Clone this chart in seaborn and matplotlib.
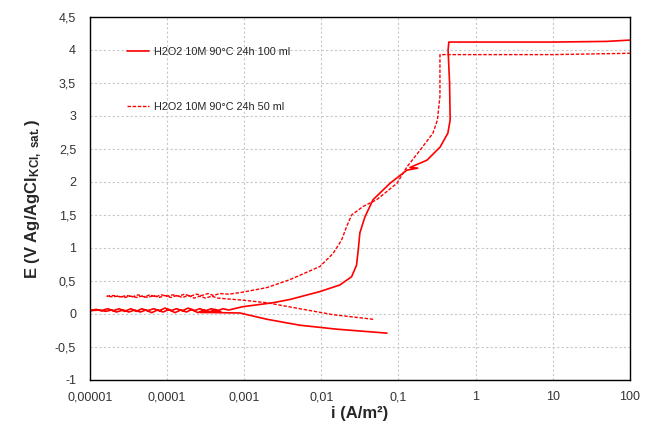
import numpy as np
import pandas as pd
import matplotlib
matplotlib.use("Agg")
import matplotlib.pyplot as plt
import seaborn as sns

# ---- data ----
i_100 = [0.071, 0.0158, 0.00525, 0.00197, 0.00088, 0.00027,
         5.0e-4, 4.2e-4, 3.55e-4, 3.0e-4, 2.5e-4, 2.1e-4, 1.78e-4, 1.5e-4,
         1.26e-4, 1.06e-4, 8.9e-5, 7.5e-5, 6.3e-5, 5.3e-5, 4.5e-5, 3.8e-5,
         3.2e-5, 2.7e-5, 2.2e-5, 1.9e-5, 1.6e-5, 1.3e-5, 1.0e-5,
         1.2e-5, 1.4e-5, 1.7e-5, 2.0e-5, 2.4e-5, 2.8e-5, 3.4e-5, 4.0e-5,
         4.7e-5, 5.6e-5, 6.7e-5, 7.9e-5, 9.4e-5, 1.12e-4, 1.33e-4, 1.58e-4,
         1.88e-4, 2.24e-4, 2.66e-4, 3.16e-4, 3.76e-4, 4.5e-4, 5.3e-4, 6.3e-4,
         0.00095, 0.00234, 0.00392, 0.0096, 0.0174, 0.0247, 0.0286, 0.0301,
         0.0316, 0.0367, 0.0467, 0.0776, 0.129, 0.178, 0.141, 0.234, 0.347,
         0.437, 0.468, 0.46, 0.44, 0.45, 1.0, 10.0, 50.0, 100.0]
E_100 = [-0.29, -0.23, -0.17, -0.08, 0.015, 0.025,
         0.03, 0.07, 0.03, 0.06, 0.02, 0.07, 0.03, 0.06,
         0.02, 0.07, 0.03, 0.06, 0.02, 0.06, 0.03, 0.06,
         0.03, 0.06, 0.03, 0.06, 0.04, 0.06, 0.05,
         0.07, 0.05, 0.08, 0.05, 0.08, 0.04, 0.08, 0.04,
         0.08, 0.05, 0.08, 0.05, 0.09, 0.05, 0.08, 0.05,
         0.09, 0.05, 0.08, 0.05, 0.08, 0.05, 0.08, 0.06,
         0.11, 0.17, 0.22, 0.34, 0.44, 0.565, 0.74, 0.97,
         1.23, 1.47, 1.73, 1.98, 2.18, 2.21, 2.22, 2.33, 2.53,
         2.74, 2.94, 3.5, 4.0, 4.12, 4.12, 4.12, 4.13, 4.15]

i_50 = [0.047, 0.0141, 0.00525, 0.00197, 0.00095, 0.00046,
        3.76e-4, 3.16e-4, 2.66e-4, 2.24e-4, 1.88e-4, 1.58e-4, 1.33e-4,
        1.12e-4, 9.4e-5, 7.9e-5, 6.7e-5, 5.6e-5, 4.7e-5, 4.0e-5, 3.4e-5,
        2.8e-5, 2.3e-5, 1.95e-5, 1.66e-5,
        2.0e-5, 2.5e-5, 3.0e-5, 3.55e-5, 4.2e-5, 5.0e-5, 6.0e-5, 7.1e-5,
        8.4e-5, 1.0e-4, 1.19e-4, 1.41e-4, 1.68e-4, 2.0e-4, 2.4e-4, 2.8e-4,
        3.4e-4, 4.0e-4, 4.8e-4, 6.3e-4,
        0.00095, 0.00197, 0.0039, 0.0096, 0.01426, 0.0183, 0.0212, 0.0247,
        0.0349, 0.052, 0.0955, 0.129, 0.19, 0.28, 0.32, 0.345,
        0.345, 1.0, 10.0, 100.0]
E_50 = [-0.08, -0.01, 0.08, 0.17, 0.21, 0.24,
        0.27, 0.24, 0.27, 0.24, 0.28, 0.25, 0.28, 0.25,
        0.28, 0.25, 0.28, 0.25, 0.27, 0.25, 0.27, 0.25,
        0.27, 0.26, 0.27,
        0.28, 0.26, 0.28, 0.26, 0.29, 0.26, 0.29, 0.26,
        0.29, 0.27, 0.29, 0.27, 0.30, 0.27, 0.30, 0.28,
        0.31, 0.28, 0.31, 0.30,
        0.33, 0.40, 0.52, 0.72, 0.92, 1.12, 1.32, 1.50,
        1.63, 1.73, 1.98, 2.23, 2.48, 2.74, 2.94, 3.3,
        3.93, 3.93, 3.93, 3.95]

label_100 = "H2O2 10M 90°C 24h 100 ml"
label_50 = "H2O2 10M 90°C 24h 50 ml"

x_ticks = [1e-5, 1e-4, 1e-3, 1e-2, 1e-1, 1, 10, 100]
x_labels = ["0,00001", "0,0001", "0,001", "0,01", "0,1", "1", "10", "100"]
y_ticks = [-1, -0.5, 0, 0.5, 1, 1.5, 2, 2.5, 3, 3.5, 4, 4.5]
y_labels = ["-1", "-0,5", "0", "0,5", "1", "1,5", "2", "2,5", "3", "3,5", "4", "4,5"]

df100 = pd.DataFrame({"i": i_100, "E": E_100})
df50 = pd.DataFrame({"i": i_50, "E": E_50})

# ---- style ----
sns.set_style("white")
plt.rcParams["font.family"] = ["Liberation Sans", "DejaVu Sans"]
plt.rcParams["mathtext.fontset"] = "custom"
plt.rcParams["mathtext.rm"] = "Liberation Sans"
plt.rcParams["mathtext.bf"] = "Liberation Sans:bold"
plt.rcParams["mathtext.it"] = "Liberation Sans:italic"

fig = plt.figure(figsize=(6.52, 4.30), dpi=100)
ax = fig.add_axes([0.138, 0.1163, 0.828, 0.8442])

sns.lineplot(data=df100, x="i", y="E", sort=False, estimator=None, ax=ax,
             color="#ff0000", linewidth=1.2, label=label_100)
sns.lineplot(data=df50, x="i", y="E", sort=False, estimator=None, ax=ax,
             color="#ff0000", linewidth=1.0, linestyle=(0, (2.5, 1.2)),
             label=label_50)

ax.set_xscale("log")
ax.set_xlim(1e-5, 100)
ax.set_ylim(-1, 4.5)
ax.set_xticks(x_ticks, x_labels)
ax.set_yticks(y_ticks, y_labels)
ax.xaxis.set_minor_locator(matplotlib.ticker.LogLocator(base=10, subs=np.arange(2, 10), numticks=100))
ax.xaxis.set_minor_formatter(matplotlib.ticker.NullFormatter())

ax.grid(True, which="major", color="#c8c8c8", linestyle=(0, (2, 2)), linewidth=0.8)
ax.tick_params(axis="x", which="major", direction="in", length=4, width=0.8,
               labelsize=9, pad=8, colors="black")
ax.tick_params(axis="x", which="minor", direction="in", length=2.5, width=0.6)
ax.tick_params(axis="y", which="major", direction="out", length=4, width=0.8,
               labelsize=9, pad=6)
for lbl in ax.get_xticklabels() + ax.get_yticklabels():
    lbl.set_color("#333333")
for sp in ax.spines.values():
    sp.set_color("black")
    sp.set_linewidth(1.0)

ax.set_xlabel("i (A/m²)", fontsize=12, fontweight="bold", labelpad=2)
ax.set_ylabel(r"E (V Ag/AgCl$_{\mathbf{KCl,\ sat.}}$)", fontsize=12,
              fontweight="bold", labelpad=8)

leg = ax.legend(loc="upper left", bbox_to_anchor=(0.051, 0.945), frameon=False,
                fontsize=7.8, labelspacing=4.15, handlelength=2.03,
                handletextpad=0.45)

fig.savefig("out.png", dpi=100)
